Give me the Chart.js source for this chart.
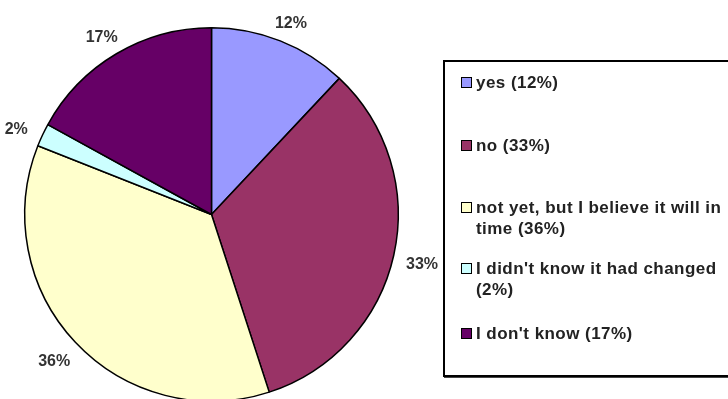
<!DOCTYPE html>
<html>
<head>
<meta charset="utf-8">
<script src="https://cdn.jsdelivr.net/npm/chart.js@4.4.0/dist/chart.umd.min.js"></script>
<style>
  html, body { margin: 0; padding: 0; background: #fff; }
  #wrap { position: relative; width: 728px; height: 399px; overflow: hidden; }
  #c { position: absolute; left: 0; top: 0; }
  #legend { position: absolute; left: 443px; top: 60px; width: 300px; height: 317px;
    border: 2px solid #000; box-shadow: 1px 1px 0 #444; box-sizing: border-box; background: #fff; }
  .item { position: absolute; left: 16px; display: flex; align-items: flex-start;
    font: bold 17px "Liberation Sans", Arial, sans-serif; color: #222; line-height: 21px; letter-spacing: 0.45px; }
  .sw { width: 9px; height: 9px; border: 1px solid #000; margin-top: 5px; margin-right: 4px; flex: none; }
  .txt { width: 262px; }
</style>
</head>
<body>
<div id="wrap">
  <canvas id="c" width="728" height="410"></canvas>
  <div id="legend"></div>
</div>
<script>
const categories = ["yes", "no", "not yet, but I believe it will in time", "I didn't know it had changed", "I don't know"];
const values = [12, 33, 36, 2, 17];
const colors = ["#9999FF", "#993366", "#FFFFCC", "#CCFFFF", "#660066"];

// legend layout (vertical position of each row's top inside the box)
const legendTops = [10, 73, 135, 196, 261];

const legend = document.getElementById('legend');
categories.forEach((cat, i) => {
  const it = document.createElement('div');
  it.className = 'item';
  it.style.top = legendTops[i] + 'px';
  const sw = document.createElement('div');
  sw.className = 'sw';
  sw.style.background = colors[i];
  const tx = document.createElement('div');
  tx.className = 'txt';
  tx.textContent = cat + ' (' + values[i] + '%)';
  it.appendChild(sw); it.appendChild(tx);
  legend.appendChild(it);
});

const outLabels = {
  id: 'outLabels',
  afterDatasetsDraw(chart) {
    const ctx = chart.ctx;
    const meta = chart.getDatasetMeta(0);
    ctx.save();
    ctx.font = 'bold 16px "Liberation Sans", Arial, sans-serif';
    ctx.fillStyle = '#333';
    ctx.textAlign = 'center';
    ctx.textBaseline = 'middle';
    meta.data.forEach((arc, i) => {
      const p = arc.getProps(['x', 'y', 'startAngle', 'endAngle', 'outerRadius'], true);
      const a = (p.startAngle + p.endAngle) / 2;
      const rx = p.outerRadius + 29;
      const ry = p.outerRadius + 23;
      ctx.fillText(values[i] + '%', p.x + Math.cos(a) * rx, p.y + Math.sin(a) * ry + 4);
    });
    ctx.restore();
  }
};

new Chart(document.getElementById('c'), {
  type: 'pie',
  data: {
    labels: categories,
    datasets: [{
      data: values,
      backgroundColor: colors,
      borderColor: '#000',
      borderWidth: 1.5
    }]
  },
  options: {
    responsive: false,
    animation: false,
    layout: { padding: { left: 24, top: 27, right: 329, bottom: 8 } },
    plugins: { legend: { display: false }, tooltip: { enabled: false } }
  },
  plugins: [outLabels]
});
</script>
</body>
</html>
